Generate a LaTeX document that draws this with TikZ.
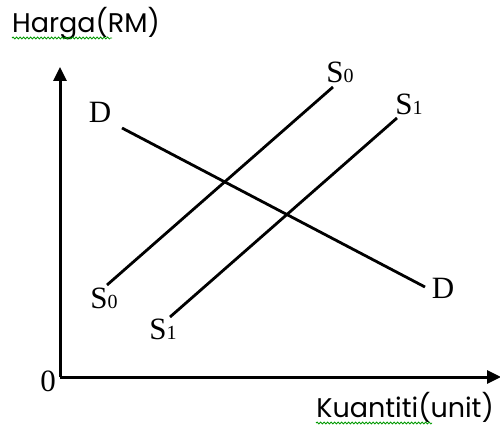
\documentclass[tikz,border=0pt]{standalone}
\usepackage{fontspec}
\setmainfont{Liberation Serif}
\newfontfamily\gothic{Poppins}
\usetikzlibrary{arrows.meta,decorations.pathmorphing}

\begin{document}
\begin{tikzpicture}[x=1pt,y=-1pt,
  curve/.style={line width=2.8pt},
  axis/.style={line width=3pt,-{Triangle[length=14pt,width=13pt]}},
  lbl/.style={font=\fontsize{31}{31}\selectfont,inner sep=0pt},
  axlbl/.style={font=\gothic\fontsize{27}{27}\selectfont,inner sep=0pt},
  squiggle/.style={draw=green!60!black,line width=0.8pt,decorate,
    decoration={snake,amplitude=1pt,segment length=3.5pt}}]

\path[use as bounding box] (0,0) rectangle (500,427);

% axes
\coordinate (O) at (60,377);
\coordinate (ytop) at (60,67);
\coordinate (xend) at (501,377);
\draw[axis] (O) -- (ytop);
\draw[axis] (O) -- (xend);
\node[lbl] (zero) at (48,381) {0};
\node[axlbl,anchor=base west] (harga) at (12,33) {Harga(RM)};
\node[axlbl,anchor=base east] (kuantiti) at (494,417) {Kuantiti(unit)};
\draw[squiggle] (12,38) -- (112,38);
\draw[squiggle] (316,423) -- (432,423);

% curve end points
\coordinate (s0a) at (107,285);
\coordinate (s0b) at (333,87);
\coordinate (s1a) at (170,317);
\coordinate (s1b) at (397,118);
\coordinate (da) at (122,128);
\coordinate (db) at (425,287);

% supply and demand
\draw[curve] (s0a) -- (s0b);
\draw[curve] (s1a) -- (s1b);
\draw[curve] (da) -- (db);

% labels
\newcommand{\sub}[1]{{\fontsize{20}{20}\selectfont #1}}
\node[lbl] (Dtop) at (100,112) {D};
\node[lbl] (Dbot) at (443,288) {D};
\node[lbl] (S0top) at (340,72) {S\sub{0}};
\node[lbl] (S1top) at (409,104) {S\sub{1}};
\node[lbl] (S0bot) at (104,298) {S\sub{0}};
\node[lbl] (S1bot) at (163,329) {S\sub{1}};

\end{tikzpicture}
\end{document}
